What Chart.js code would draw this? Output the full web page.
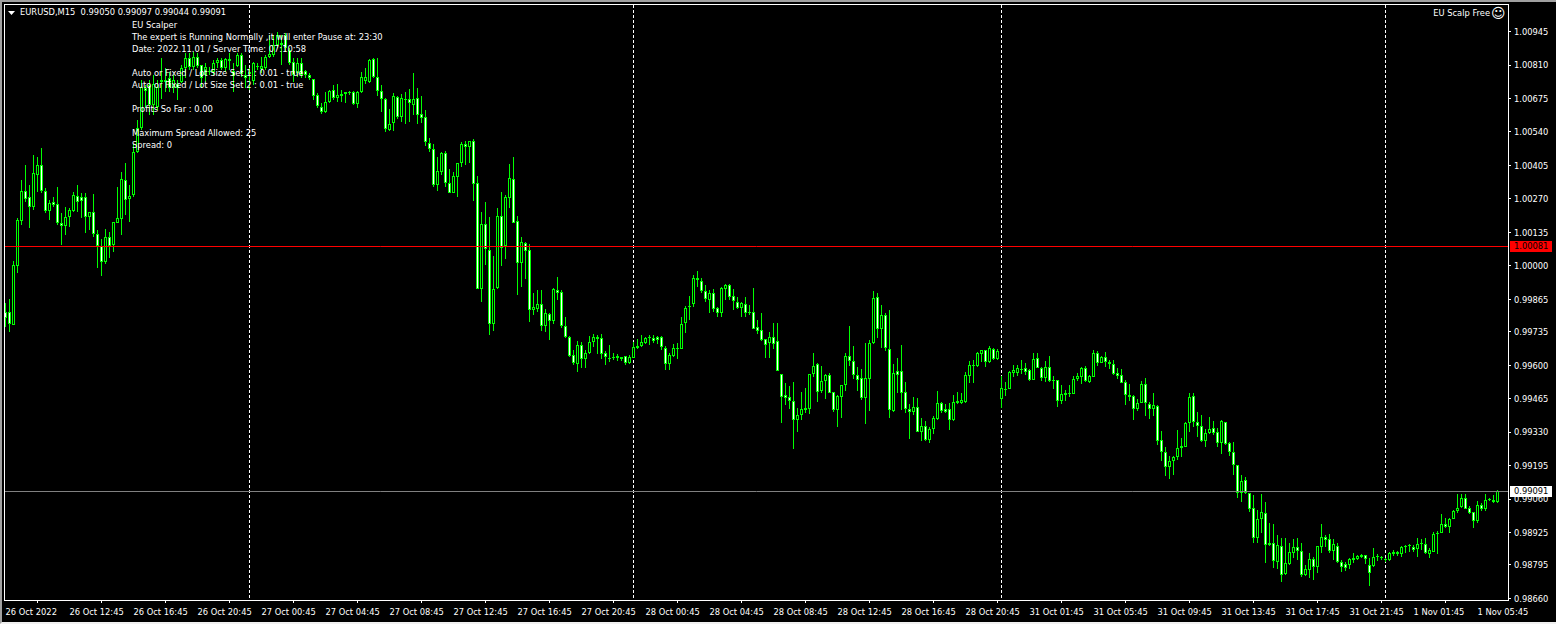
<!DOCTYPE html>
<html>
<head>
<meta charset="utf-8">
<title>EURUSD,M15</title>
<script src="https://cdn.jsdelivr.net/npm/chart.js@4/dist/chart.umd.min.js"></script>
<style>
    html, body { margin: 0; padding: 0; background: #000; overflow: hidden; }
    #wrap { position: relative; width: 1556px; height: 624px; }
    #chart { display: block; }
    #edge { position: absolute; left: 0; top: 0; right: 0; bottom: 0; box-sizing: border-box;
            border-top: 2px solid #a0a0a0; border-left: 2px solid #a0a0a0; border-bottom: 2px solid #f0f0f0; pointer-events: none; }
</style>
</head>
<body>
<div id="wrap">
    <canvas id="chart" width="1556" height="624"></canvas>
    <div id="edge"></div>
</div>
<script>
// prices are in 1/100000 units, divided down when the datasets are built
const opens = [
99815,99815,99762,100000,100181,100302,100278,100238,100367,100407,
100302,100222,100258,100250,100173,100161,100198,100222,100282,100278,
100278,100198,100218,100129,100081,100016,100117,100085,100173,100190,
100347,100270,100286,100460,100556,100718,100730,100649,100641,100750,
100750,100758,100718,100734,100742,100798,100839,100802,100843,100810,
100770,100786,100782,100818,100831,100798,100827,100786,100806,100851,
100770,100782,100746,100806,100794,100798,100843,100851,100891,100899,
100931,100871,100822,100778,100818,100786,100770,100754,100690,100641,
100621,100661,100710,100677,100694,100694,100702,100702,100653,100702,
100746,100742,100835,100762,100706,100673,100548,100577,100681,100601,
100673,100673,100649,100677,100613,100601,100496,100472,100327,100379,
100456,100335,100294,100359,100415,100492,100480,100504,100335,99907,
100169,100065,99766,99911,100202,100081,100274,100351,100181,100012,
100093,100065,99823,99827,99847,99758,99806,99778,99903,99895,
99758,99714,99641,99605,99681,99625,99649,99694,99714,99710,
99649,99629,99629,99637,99633,99637,99609,99629,99669,99677,
99690,99714,99710,99714,99714,99669,99605,99637,99669,99665,
99770,99835,99847,99952,99940,99899,99863,99891,99831,99811,
99907,99923,99879,99855,99831,99847,99815,99815,99754,99742,
99706,99690,99714,99698,99565,99480,99472,99456,99379,99399,
99419,99423,99565,99605,99496,99536,99560,99492,99419,99472,
99520,99637,99617,99560,99548,99468,99544,99690,99875,99746,
99802,99665,99415,99577,99577,99492,99423,99411,99431,99331,
99355,99298,99343,99383,99448,99423,99423,99379,99456,99448,
99452,99556,99597,99597,99645,99661,99613,99665,99625,99464,
99500,99504,99569,99569,99585,99589,99581,99540,99629,99589,
99548,99593,99540,99540,99456,99480,99484,99484,99544,99552,
99589,99532,99552,99649,99609,99633,99613,99605,99569,99560,
99532,99480,99476,99423,99448,99524,99444,99423,99436,99298,
99250,99190,99214,99230,99266,99270,99367,99476,99371,99355,
99294,99327,99347,99331,99286,99371,99286,99250,99198,99085,
99137,99085,99024,98903,98980,99004,98883,98883,98807,98871,
98758,98799,98843,98867,98851,98754,98774,98819,98786,98867,
98907,98899,98851,98871,98807,98799,98794,98815,98819,98835,
98835,98794,98790,98831,98827,98819,98815,98839,98839,98839,
98867,98871,98867,98859,98883,98879,98839,98847,98920,98924,
98960,98948,98980,99012,99028,99065,99024,99008,98972,99037,
99020,99057,99057,99050
];
const highs = [
99851,99867,100020,100193,100347,100407,100327,100447,100439,100476,
100314,100266,100278,100318,100214,100238,100234,100298,100327,100294,
100294,100218,100290,100145,100109,100149,100137,100177,100318,100379,
100415,100327,100492,100589,100750,100730,100750,100770,100750,100839,
100798,100782,100770,100750,100810,100859,100859,100863,100859,100810,
100818,100802,100831,100839,100839,100839,100859,100818,100859,100859,
100810,100798,100822,100818,100843,100851,100931,100931,100943,100931,
100939,100879,100839,100839,100839,100790,100778,100754,100698,100657,
100702,100710,100730,100734,100710,100702,100706,100706,100706,100782,
100798,100835,100839,100839,100730,100677,100633,100698,100685,100694,
100702,100714,100778,100718,100685,100629,100516,100492,100439,100460,
100464,100391,100379,100415,100500,100504,100504,100512,100363,100218,
100258,100198,100040,100234,100298,100286,100411,100439,100202,100117,
100097,100089,99891,99903,99903,99827,99811,99911,99956,99903,
99794,99718,99661,99698,99694,99661,99718,99726,99722,99726,
99657,99681,99649,99645,99633,99637,99641,99694,99706,99722,
99714,99722,99722,99718,99718,99677,99649,99685,99690,99794,
99839,99879,99964,99980,99952,99923,99903,99907,99835,99915,
99927,99927,99907,99875,99855,99875,99843,99911,99782,99811,
99706,99734,99770,99770,99565,99528,99516,99532,99427,99492,
99508,99565,99649,99609,99597,99565,99569,99492,99480,99520,
99649,99758,99677,99593,99585,99690,99702,99899,99891,99843,
99811,99823,99605,99629,99681,99532,99444,99472,99468,99387,
99375,99351,99395,99496,99452,99444,99448,99480,99492,99488,
99573,99617,99621,99653,99661,99661,99677,99669,99665,99556,
99532,99577,99601,99601,99621,99609,99585,99649,99649,99593,
99617,99637,99556,99540,99520,99500,99520,99556,99569,99593,
99597,99560,99661,99657,99637,99653,99621,99621,99589,99585,
99540,99524,99480,99464,99536,99548,99452,99488,99440,99335,
99270,99234,99234,99339,99306,99371,99488,99488,99411,99399,
99343,99391,99375,99347,99379,99371,99290,99290,99198,99157,
99149,99085,99077,99016,99081,99049,98964,98960,98915,98903,
98903,98883,98899,98903,98883,98794,98843,98827,98871,98960,
98915,98919,98899,98883,98815,98807,98823,98843,98835,98839,
98835,98823,98863,98839,98831,98823,98847,98855,98851,98871,
98875,98879,98875,98903,98899,98903,98863,98928,98932,99000,
98984,98984,99016,99081,99081,99081,99033,99008,99053,99045,
99081,99065,99077,99097
];
const lows = [
99754,99734,99762,99972,100165,100258,100153,100226,100298,100294,
100214,100185,100238,100165,100085,100125,100157,100218,100218,100193,
100133,100145,100117,99992,99960,100008,100032,100057,100173,100125,
100206,100177,100278,100456,100548,100637,100609,100609,100629,100673,
100702,100702,100698,100669,100738,100758,100790,100790,100798,100718,
100742,100770,100770,100798,100790,100782,100790,100702,100802,100762,
100718,100710,100730,100790,100778,100790,100839,100843,100879,100810,
100863,100810,100742,100762,100758,100758,100750,100669,100637,100613,
100617,100657,100669,100661,100661,100657,100690,100649,100637,100698,
100734,100738,100758,100685,100621,100540,100544,100544,100593,100581,
100573,100581,100609,100573,100577,100484,100460,100318,100302,100367,
100318,100294,100294,100278,100399,100407,100415,100262,99907,99855,
100004,99722,99738,99907,100000,100028,100234,100173,99883,99915,
99948,99774,99802,99815,99738,99734,99702,99766,99863,99750,
99710,99633,99601,99573,99589,99589,99645,99673,99645,99625,
99601,99613,99621,99617,99617,99601,99605,99629,99665,99673,
99685,99681,99690,99685,99661,99581,99581,99633,99625,99665,
99730,99782,99835,99915,99891,99855,99811,99815,99794,99794,
99863,99863,99823,99827,99794,99794,99802,99746,99726,99698,
99629,99629,99665,99577,99367,99440,99423,99262,99331,99379,
99407,99403,99552,99452,99488,99464,99488,99411,99351,99387,
99496,99597,99544,99496,99460,99363,99415,99686,99710,99669,
99657,99387,99411,99488,99419,99407,99302,99399,99331,99294,
99294,99286,99323,99379,99407,99407,99339,99375,99444,99444,
99448,99528,99528,99593,99613,99593,99609,99621,99621,99427,
99476,99504,99552,99556,99565,99560,99536,99540,99589,99536,
99532,99532,99504,99431,99444,99456,99472,99484,99536,99524,
99532,99528,99552,99597,99609,99593,99585,99560,99544,99528,
99440,99456,99379,99415,99448,99395,99383,99395,99278,99214,
99153,99141,99157,99218,99230,99270,99331,99351,99310,99290,
99270,99323,99319,99270,99242,99278,99234,99157,99065,99049,
99081,99008,98883,98883,98924,98803,98871,98782,98778,98726,
98754,98794,98823,98815,98746,98750,98742,98734,98762,98843,
98867,98843,98815,98803,98766,98770,98778,98803,98815,98823,
98799,98710,98786,98811,98815,98807,98811,98831,98831,98827,
98843,98847,98847,98827,98855,98839,98823,98847,98839,98924,
98944,98924,98980,99004,99024,99020,99000,98944,98964,99012,
99012,99053,99045,99044
];
const closes = [
99790,99766,100004,100185,100302,100270,100238,100375,100407,100302,
100222,100254,100246,100173,100161,100198,100226,100286,100258,100262,
100198,100218,100129,100081,100016,100117,100081,100177,100193,100351,
100266,100282,100460,100556,100722,100706,100649,100734,100722,100742,
100742,100718,100750,100718,100798,100839,100802,100843,100806,100758,
100802,100782,100818,100831,100798,100835,100835,100766,100851,100774,
100758,100774,100818,100802,100806,100843,100855,100891,100931,100891,
100879,100818,100770,100818,100770,100770,100758,100685,100645,100621,
100661,100706,100677,100690,100685,100702,100698,100653,100702,100762,
100762,100831,100762,100706,100673,100552,100572,100685,100601,100677,
100669,100657,100673,100609,100597,100500,100472,100327,100383,100456,
100335,100294,100363,100415,100492,100480,100504,100331,99907,100169,
100069,99766,99907,100202,100073,100278,100355,100173,100012,100097,
100060,99823,99835,99847,99758,99811,99778,99907,99891,99758,
99714,99637,99609,99681,99625,99649,99694,99714,99706,99645,
99633,99625,99633,99629,99625,99609,99633,99673,99677,99694,
99710,99710,99698,99702,99673,99605,99641,99669,99665,99766,
99831,99839,99952,99944,99899,99867,99891,99827,99811,99911,
99923,99875,99859,99831,99851,99811,99811,99746,99738,99702,
99681,99714,99685,99577,99472,99468,99456,99379,99399,99423,
99427,99565,99597,99492,99536,99560,99488,99419,99476,99520,
99637,99617,99560,99540,99468,99548,99690,99871,99746,99802,
99669,99419,99569,99560,99488,99423,99411,99431,99331,99355,
99298,99343,99387,99448,99415,99411,99379,99452,99448,99460,
99560,99601,99601,99649,99661,99613,99669,99625,99657,99508,
99504,99573,99581,99589,99581,99573,99540,99625,99589,99548,
99593,99536,99536,99456,99484,99488,99488,99544,99556,99589,
99536,99556,99649,99609,99633,99613,99605,99565,99556,99528,
99480,99472,99423,99448,99524,99448,99423,99440,99294,99250,
99190,99214,99230,99266,99274,99367,99472,99371,99355,99294,
99327,99343,99327,99286,99375,99282,99250,99198,99085,99133,
99085,99020,98903,98980,99008,98875,98875,98811,98875,98754,
98803,98847,98867,98851,98754,98778,98819,98786,98871,98907,
98895,98851,98879,98807,98786,98782,98819,98823,98831,98827,
98819,98762,98827,98827,98823,98815,98843,98847,98847,98867,
98871,98875,98855,98879,98879,98843,98855,98920,98924,98960,
98948,98980,99012,99024,99065,99020,99004,98972,99037,99020,
99057,99061,99049,99091
];

const tickPrices = [100945, 100810, 100675, 100540, 100405, 100270, 100135, 100000, 99865, 99735, 99600, 99465, 99330, 99195, 99060, 98925, 98795, 98660];
const timeLabels = ['26 Oct 2022', '26 Oct 12:45', '26 Oct 16:45', '26 Oct 20:45', '27 Oct 00:45', '27 Oct 04:45', '27 Oct 08:45', '27 Oct 12:45',
    '27 Oct 16:45', '27 Oct 20:45', '28 Oct 00:45', '28 Oct 04:45', '28 Oct 08:45', '28 Oct 12:45', '28 Oct 16:45', '28 Oct 20:45',
    '31 Oct 01:45', '31 Oct 05:45', '31 Oct 09:45', '31 Oct 13:45', '31 Oct 17:45', '31 Oct 21:45', '1 Nov 01:45', '1 Nov 05:45'];
const barsPerLabel = 16;
const periodBreaks = [61, 157, 249, 345];
const redLevel = 1.00081;
const bidLevel = 0.99091;

const expertLines = [
    ['EU Scalper', 26],
    ['The expert is Running Normally ,it will enter Pause at: 23:30', 38],
    ['Date: 2022.11.01 / Server Time: 07:10:58', 50],
    ['Auto or Fixed / Lot Size Set 1 : 0.01 - true', 74],
    ['Auto or Fixed / Lot Size Set 2 : 0.01 - true', 86],
    ['Profits So Far : 0.00', 110],
    ['Maximum Spread Allowed: 25', 134],
    ['Spread: 0', 146]
];

const FONT_FAMILY = '"DejaVu Sans Condensed", "DejaVu Sans"';
const FONT_SIZE = 9.25;
const UI_FONT = FONT_SIZE + 'px ' + FONT_FAMILY;
const GREEN = '#00ff00';

const wickData = highs.map((h, i) => ({ x: i, y: [lows[i] / 1e5, h / 1e5] }));
const bodyData = opens.map((o, i) => ({ x: i, y: [o / 1e5, closes[i] / 1e5] }));
const bodyFill = opens.map((o, i) => closes[i] >= o ? '#000000' : '#ffffff');

// MT4 style furniture: frame, period separators, level lines, text on the chart
const terminalPlugin = {
    id: 'terminal',
    beforeDatasetDraw(chart, args) {
        // snap bars to whole pixels so the candles stay crisp
        args.meta.data.forEach(bar => {
            bar.y = Math.round(bar.y);
            bar.base = Math.round(bar.base);
        });
    },
    beforeDatasetsDraw(chart) {
        const { ctx, chartArea: area, scales } = chart;
        ctx.save();
        ctx.strokeStyle = '#ffffff';
        ctx.lineWidth = 1;
        ctx.setLineDash([3, 2]);
        periodBreaks.forEach(i => {
            const x = scales.x.getPixelForValue(i);
            ctx.beginPath();
            ctx.moveTo(x, area.top);
            ctx.lineTo(x, area.bottom);
            ctx.stroke();
        });
        ctx.restore();
    },
    afterDraw(chart) {
        const { ctx, chartArea: area, scales } = chart;
        ctx.save();

        // price labels go here so the level tags can sit on top of them
        ctx.fillStyle = '#ffffff';
        ctx.font = UI_FONT;
        ctx.textAlign = 'left';
        ctx.textBaseline = 'middle';
        tickPrices.forEach(p => {
            ctx.fillText((p / 1e5).toFixed(5), 1514, scales.y.getPixelForValue(p / 1e5) + 1);
        });

        const level = (price, color) => {
            const y = Math.round(scales.y.getPixelForValue(price)) + 0.5;
            ctx.strokeStyle = color;
            ctx.beginPath();
            ctx.moveTo(area.left, y);
            ctx.lineTo(area.right, y);
            ctx.stroke();
            return y;
        };
        const tag = (price, y, fill) => {
            ctx.fillStyle = fill;
            ctx.fillRect(1510, Math.floor(y) - 5, 42, 11);
            ctx.fillStyle = '#000000';
            ctx.fillText(price.toFixed(5), 1514, y + 0.5);
        };

        ctx.lineWidth = 1;
        tag(redLevel, level(redLevel, '#ff0000'), '#ff0000');
        tag(bidLevel, level(bidLevel, '#808080'), '#ffffff');

        ctx.strokeStyle = '#ffffff';
        ctx.strokeRect(area.left - 0.5, area.top - 0.5, area.width + 1, area.height + 1);

        ctx.fillStyle = '#ffffff';
        expertLines.forEach(([text, y]) => ctx.fillText(text, 132, y));
        ctx.fillText('EURUSD,M15  0.99050 0.99097 0.99044 0.99091', 20, 13);

        ctx.beginPath();
        ctx.moveTo(8, 11);
        ctx.lineTo(15, 11);
        ctx.lineTo(11.5, 15);
        ctx.closePath();
        ctx.fill();

        ctx.textAlign = 'right';
        ctx.fillText('EU Scalp Free', 1490, 14);
        ctx.textAlign = 'left';
        ctx.font = '14px "DejaVu Sans"';
        ctx.fillText('\u263A', 1491, 14);
        ctx.restore();
    }
};

// opaque canvas so the text gets the same subpixel look as the terminal
const canvas = document.getElementById('chart');
canvas.getContext('2d', { alpha: false });

new Chart(canvas, {
    type: 'bar',
    data: {
        datasets: [
            {
                label: 'wick',
                data: wickData,
                backgroundColor: GREEN,
                barThickness: 1,
                inflateAmount: 0,
                order: 2
            },
            {
                label: 'body',
                data: bodyData,
                backgroundColor: bodyFill,
                borderColor: GREEN,
                borderWidth: 1,
                borderSkipped: false,
                barThickness: 3,
                inflateAmount: 0,
                order: 1
            }
        ]
    },
    options: {
        responsive: false,
        animation: false,
        events: [],
        layout: { padding: { left: 5, top: 5, right: 0, bottom: 0 } },
        plugins: { legend: { display: false }, tooltip: { enabled: false } },
        datasets: { bar: { grouped: false } },
        scales: {
            x: {
                type: 'linear',
                offset: false,
                min: -0.125,
                max: 375.625,
                afterBuildTicks(scale) {
                    scale.ticks = timeLabels.map((_, n) => ({ value: n * barsPerLabel }));
                },
                afterFit(scale) {
                    scale.height = 24;
                    scale.paddingLeft = 0;
                    scale.paddingRight = 0;
                },
                border: { display: false },
                grid: { drawOnChartArea: false, tickLength: 3, tickColor: '#ffffff', color: '#ffffff' },
                ticks: {
                    align: 'start',
                    autoSkip: false,
                    maxRotation: 0,
                    padding: 4,
                    color: '#ffffff',
                    font: { family: FONT_FAMILY, size: FONT_SIZE },
                    callback(value) { return timeLabels[value / barsPerLabel]; }
                }
            },
            y: {
                position: 'right',
                min: 0.98653,
                max: 1.01052,
                afterBuildTicks(scale) {
                    scale.ticks = tickPrices.map(p => ({ value: p / 1e5 }));
                },
                afterFit(scale) {
                    scale.width = 48;
                    scale.paddingTop = 0;
                    scale.paddingBottom = 0;
                },
                border: { display: false },
                grid: { drawOnChartArea: false, tickLength: 3, tickColor: '#ffffff', color: '#ffffff' },
                ticks: { display: false }
            }
        }
    },
    plugins: [terminalPlugin]
});
</script>
</body>
</html>
